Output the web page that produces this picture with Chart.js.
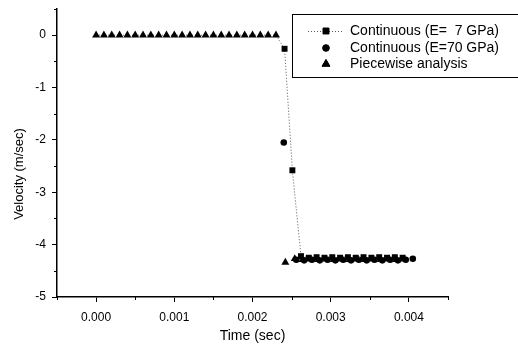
<!DOCTYPE html>
<html>
<head>
<meta charset="utf-8">
<script src="https://cdn.jsdelivr.net/npm/chart.js@4.4.0/dist/chart.umd.min.js"></script>
<style>
  html, body { margin: 0; padding: 0; background: #fff; }
  #wrap { width: 518px; height: 347px; }
</style>
</head>
<body>
<div id="wrap"><canvas id="velocity-chart" width="518" height="347"></canvas></div>
<script>
// series labels
const seriesLabels = ['Continuous (E=  7 GPa)', 'Continuous (E=70 GPa)', 'Piecewise analysis'];

// flat part before the impact (all three series sit at 0 here)
const flatTime = [0, 0.0001, 0.0002, 0.0003, 0.0004, 0.0005, 0.0006, 0.0007, 0.0008, 0.0009,
    0.0010, 0.0011, 0.0012, 0.0013, 0.0014, 0.0015, 0.0016, 0.0017, 0.0018, 0.0019,
    0.0020, 0.0021, 0.0022, 0.0023];
const flatVel = [0, 0, 0, 0, 0, 0, 0, 0, 0, 0, 0, 0, 0, 0, 0, 0, 0, 0, 0, 0, 0, 0, 0, 0];

// Continuous, E = 7 GPa (squares, dotted line)
const e7Time = [0.00241, 0.00251, 0.00262, 0.00272, 0.00282, 0.00292, 0.00302, 0.00312, 0.00322,
    0.00332, 0.00342, 0.00352, 0.00362, 0.00372, 0.00382, 0.00392];
const e7Vel = [-0.26, -2.58, -4.22, -4.25, -4.24, -4.25, -4.24, -4.25, -4.24,
    -4.25, -4.24, -4.25, -4.24, -4.25, -4.24, -4.25];

// Continuous, E = 70 GPa (circles)
const e70Time = [0.00240, 0.00256, 0.00266, 0.00276, 0.00286, 0.00296, 0.00306, 0.00316, 0.00326,
    0.00336, 0.00346, 0.00356, 0.00366, 0.00376, 0.00386, 0.00396, 0.00405];
const e70Vel = [-2.05, -4.29, -4.30, -4.29, -4.30, -4.29, -4.30, -4.29, -4.30,
    -4.29, -4.30, -4.29, -4.30, -4.29, -4.30, -4.29, -4.27];

// Piecewise analysis (triangles)
const pwTime = [0.00242, 0.00254, 0.00264, 0.00274, 0.00284, 0.00294, 0.00304, 0.00314, 0.00324,
    0.00334, 0.00344, 0.00354, 0.00364, 0.00374, 0.00384, 0.00394];
const pwVel = [-4.34, -4.27, -4.29, -4.28, -4.29, -4.28, -4.29, -4.28, -4.29,
    -4.28, -4.29, -4.28, -4.29, -4.28, -4.29, -4.28];

// axes
const xTicks = [0, 0.001, 0.002, 0.003, 0.004];
const xMinorTicks = [-0.0005, 0.0005, 0.0015, 0.0025, 0.0035, 0.0045];
const yTicks = [-5, -4, -3, -2, -1, 0];
const yMinorTicks = [-4.5, -3.5, -2.5, -1.5, -0.5, 0.5];
const xTitle = 'Time (sec)';
const yTitle = 'Velocity (m/sec)';

const FONT = '"Liberation Sans", Arial, sans-serif';
const SIZE = { rect: 4.2, circle: 3.3, triangle: 4.6 };

function toPoints(xs, ys) {
    return xs.map((x, i) => ({ x: x, y: ys[i] }));
}

// the continuous results are hidden under the triangles while still at rest
function hiddenAtRest(size) {
    return (c) => (c.raw && c.raw.y === 0 ? 0 : size);
}

// minor ticks, y title and the boxed legend
const decorPlugin = {
    id: 'decor',
    afterDraw(chart) {
        const ctx = chart.ctx;
        const xs = chart.scales.x, ys = chart.scales.y;
        const area = chart.chartArea;
        ctx.save();
        ctx.strokeStyle = '#000';
        ctx.lineWidth = 1;
        ctx.beginPath();
        xMinorTicks.forEach(v => {
            const px = Math.round(xs.getPixelForValue(v)) + 0.5;
            ctx.moveTo(px, area.bottom);
            ctx.lineTo(px, area.bottom + 3);
        });
        yMinorTicks.forEach(v => {
            const py = Math.round(ys.getPixelForValue(v)) + 0.5;
            ctx.moveTo(area.left, py);
            ctx.lineTo(area.left - 3, py);
        });
        ctx.stroke();

        // y axis title
        ctx.save();
        ctx.translate(19, 174);
        ctx.rotate(-Math.PI / 2);
        ctx.fillStyle = '#000';
        ctx.font = '13px ' + FONT;
        ctx.textAlign = 'center';
        ctx.textBaseline = 'middle';
        ctx.fillText(yTitle, 0, 0);
        ctx.restore();

        // legend box, rows in the label order
        const bx = 292.5, by = 14.5, bw = 226, bh = 63;
        ctx.strokeStyle = '#000';
        ctx.lineWidth = 1;
        ctx.strokeRect(bx, by, bw, bh);
        const rowsY = [31, 48, 64];
        seriesLabels.forEach((label, i) => {
            const ds = chart.data.datasets.find(d => d.label === label);
            const y = rowsY[i];
            if (ds.showLine) {
                ctx.save();
                ctx.strokeStyle = ds.borderColor;
                ctx.lineWidth = ds.borderWidth;
                ctx.setLineDash(ds.borderDash);
                ctx.beginPath();
                ctx.moveTo(308, y + 0.5);
                ctx.lineTo(344, y + 0.5);
                ctx.stroke();
                ctx.restore();
            }
            Chart.helpers.drawPoint(ctx, {
                pointStyle: ds.pointStyle,
                radius: SIZE[ds.pointStyle],
                rotation: 0,
                borderWidth: 1
            }, 326, y);
            ctx.fillStyle = '#000';
            ctx.fill();
            ctx.font = '14px ' + FONT;
            ctx.textAlign = 'left';
            ctx.textBaseline = 'middle';
            ctx.fillText(label, 350, y);
        });
        ctx.restore();
    }
};

new Chart(document.getElementById('velocity-chart'), {
    type: 'scatter',
    data: {
        datasets: [
            {
                label: seriesLabels[2],
                data: toPoints([...flatTime, ...pwTime], [...flatVel, ...pwVel]),
                showLine: false,
                pointStyle: 'triangle',
                pointRadius: SIZE.triangle,
                pointBackgroundColor: '#000',
                pointBorderColor: '#000',
                pointBorderWidth: 0
            },
            {
                label: seriesLabels[0],
                data: toPoints([...flatTime, ...e7Time], [...flatVel, ...e7Vel]),
                showLine: true,
                borderColor: '#555',
                borderWidth: 1,
                borderDash: [1, 2],
                pointStyle: 'rect',
                pointRadius: hiddenAtRest(SIZE.rect),
                pointBackgroundColor: '#000',
                pointBorderColor: '#000',
                pointBorderWidth: 0
            },
            {
                label: seriesLabels[1],
                data: toPoints([...flatTime, ...e70Time], [...flatVel, ...e70Vel]),
                showLine: false,
                pointStyle: 'circle',
                pointRadius: hiddenAtRest(SIZE.circle),
                pointBackgroundColor: '#000',
                pointBorderColor: '#000',
                pointBorderWidth: 0
            }
        ]
    },
    options: {
        responsive: false,
        animation: false,
        layout: { padding: { left: 0, top: 9, right: 70, bottom: 0 } },
        plugins: {
            legend: { display: false },
            tooltip: { enabled: false }
        },
        scales: {
            x: {
                type: 'linear',
                min: -0.0005,
                max: 0.0045,
                afterBuildTicks: (scale) => { scale.ticks = xTicks.map(v => ({ value: v })); },
                afterFit: (scale) => { scale.height = 50; scale.paddingLeft = 0; scale.paddingRight = 0; },
                ticks: {
                    color: '#000',
                    font: { family: FONT, size: 12 },
                    padding: 8,
                    maxRotation: 0,
                    callback: (v) => Number(v).toFixed(3)
                },
                grid: { drawOnChartArea: false, drawTicks: true, tickLength: 5, color: '#000' },
                border: { display: true, color: '#000', width: 1.5 },
                title: {
                    display: true,
                    text: xTitle,
                    color: '#000',
                    font: { family: FONT, size: 14 },
                    padding: { top: 0, bottom: 2 }
                }
            },
            y: {
                type: 'linear',
                min: -5,
                max: 0.5,
                afterBuildTicks: (scale) => { scale.ticks = yTicks.map(v => ({ value: v })); },
                afterFit: (scale) => { scale.width = 57; scale.paddingTop = 0; scale.paddingBottom = 0; },
                ticks: {
                    color: '#000',
                    font: { family: FONT, size: 12 },
                    padding: 6
                },
                grid: { drawOnChartArea: false, drawTicks: true, tickLength: 5, color: '#000' },
                border: { display: true, color: '#000', width: 1.5 },
                title: { display: false }
            }
        }
    },
    plugins: [decorPlugin]
});
</script>
</body>
</html>
